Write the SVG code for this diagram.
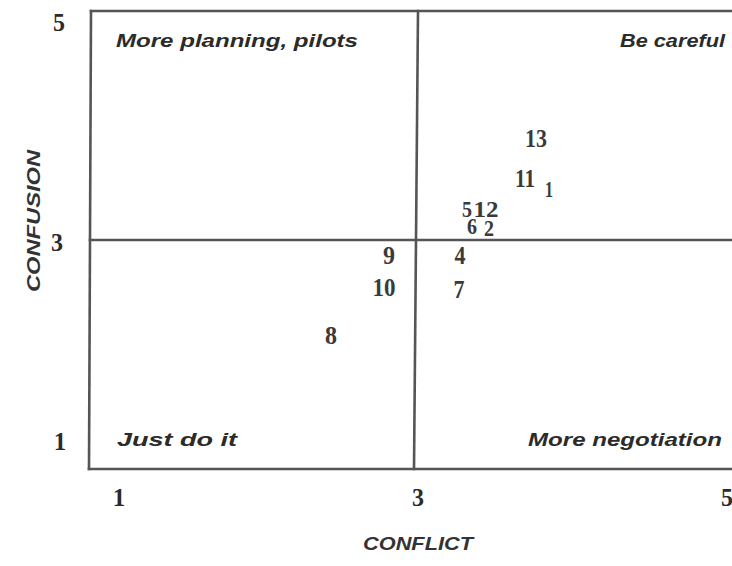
<svg xmlns="http://www.w3.org/2000/svg" width="732" height="566" viewBox="0 0 732 566">
<style>
.ln{stroke:#555;stroke-width:2.6;fill:none;stroke-linecap:square}
.q{font-family:"Liberation Sans",Arial,sans-serif;font-weight:bold;font-style:italic;font-size:19px;fill:#2b2b2b}
.ax{font-family:"Liberation Serif","Times New Roman",serif;font-weight:bold;font-size:25px;fill:#2b2b2b}
.pt{font-family:"Liberation Serif","Times New Roman",serif;font-weight:bold;font-size:26px;fill:#3a3a3a}
.sm{font-size:23px}
.tt{font-family:"Liberation Sans",Arial,sans-serif;font-weight:bold;font-style:italic;font-size:18px;fill:#333}
</style>
<rect width="732" height="566" fill="#ffffff"/>
<g id="frame">
<line class="ln" x1="91" y1="11" x2="732" y2="11"/>
<line class="ln" x1="91" y1="11" x2="89" y2="469"/>
<line class="ln" x1="89" y1="469" x2="732" y2="469"/>
<line class="ln" x1="418" y1="11" x2="414" y2="469"/>
<line class="ln" x1="90" y1="240" x2="732" y2="240"/>
</g>
<g id="quadrant-labels">
<text class="q" x="116" y="47" textLength="242" lengthAdjust="spacingAndGlyphs">More planning, pilots</text>
<text class="q" x="620" y="47" textLength="105" lengthAdjust="spacingAndGlyphs">Be careful</text>
<text class="q" x="117" y="446" textLength="120" lengthAdjust="spacingAndGlyphs">Just do it</text>
<text class="q" x="528" y="446" textLength="194" lengthAdjust="spacingAndGlyphs">More negotiation</text>
</g>
<g id="y-axis">
<text class="ax" x="59" y="31" text-anchor="middle" textLength="12" lengthAdjust="spacingAndGlyphs">5</text>
<text class="ax" x="57" y="251" text-anchor="middle" textLength="12" lengthAdjust="spacingAndGlyphs">3</text>
<text class="ax" x="60" y="450" text-anchor="middle">1</text>
<text class="tt" transform="translate(40,221) rotate(-90)" text-anchor="middle" textLength="142" lengthAdjust="spacingAndGlyphs">CONFUSION</text>
</g>
<g id="x-axis">
<text class="ax" x="119" y="506" text-anchor="middle">1</text>
<text class="ax" x="418" y="506" text-anchor="middle" textLength="12" lengthAdjust="spacingAndGlyphs">3</text>
<text class="ax" x="727" y="506" text-anchor="middle" textLength="12" lengthAdjust="spacingAndGlyphs">5</text>
<text class="tt" x="418" y="550" text-anchor="middle" textLength="110" lengthAdjust="spacingAndGlyphs">CONFLICT</text>
</g>
<g id="points">
<g id="p13"><text class="pt" x="536" y="147" text-anchor="middle" textLength="22" lengthAdjust="spacingAndGlyphs">13</text></g>
<g id="p11"><text class="pt" x="525" y="187" text-anchor="middle" textLength="20" lengthAdjust="spacingAndGlyphs">11</text></g>
<g id="p1"><text class="pt sm" x="549" y="197" text-anchor="middle" textLength="8" lengthAdjust="spacingAndGlyphs">1</text></g>
<g id="p5"><text class="pt sm" x="467" y="217" text-anchor="middle" textLength="10" lengthAdjust="spacingAndGlyphs">5</text></g>
<g id="p12"><text class="pt sm" x="486" y="217" text-anchor="middle" textLength="25" lengthAdjust="spacingAndGlyphs">12</text></g>
<g id="p6"><text class="pt sm" x="472" y="234" text-anchor="middle" textLength="10" lengthAdjust="spacingAndGlyphs">6</text></g>
<g id="p2"><text class="pt sm" x="489" y="236" text-anchor="middle" textLength="10" lengthAdjust="spacingAndGlyphs">2</text></g>
<g id="p9"><text class="pt" x="389" y="264" text-anchor="middle" textLength="12" lengthAdjust="spacingAndGlyphs">9</text></g>
<g id="p4"><text class="pt" x="460" y="264" text-anchor="middle" textLength="11" lengthAdjust="spacingAndGlyphs">4</text></g>
<g id="p10"><text class="pt" x="384" y="296" text-anchor="middle" textLength="23" lengthAdjust="spacingAndGlyphs">10</text></g>
<g id="p7"><text class="pt" x="459" y="298" text-anchor="middle" textLength="11" lengthAdjust="spacingAndGlyphs">7</text></g>
<g id="p8"><text class="pt" x="331" y="344" text-anchor="middle" textLength="12" lengthAdjust="spacingAndGlyphs">8</text></g>
</g>
</svg>
